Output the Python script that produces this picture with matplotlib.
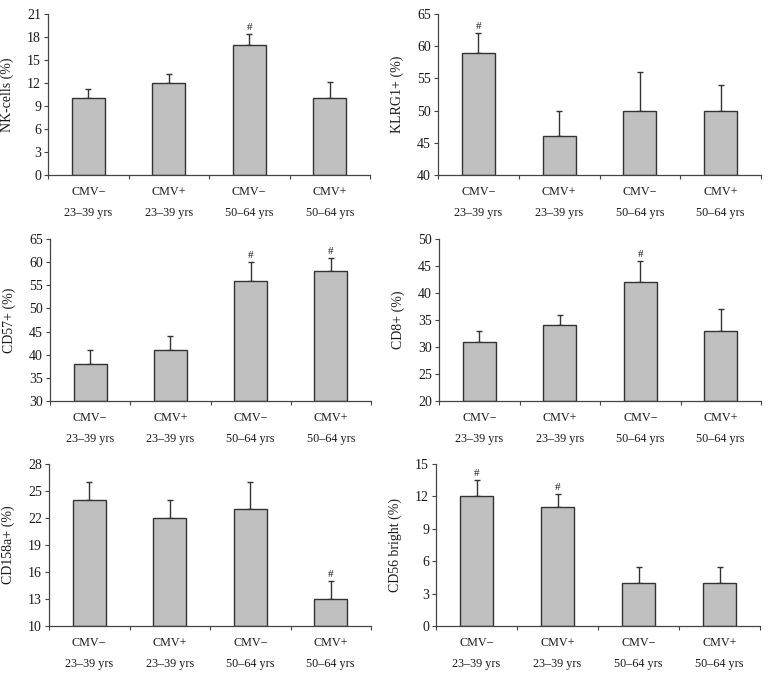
import matplotlib
matplotlib.use("Agg")
import matplotlib.pyplot as plt
import numpy as np

plt.rcParams['font.family'] = ['Liberation Serif', 'DejaVu Serif']

categories = ["CMV\u2212\n23\u201339 yrs", "CMV+\n23\u201339 yrs",
              "CMV\u2212\n50\u201364 yrs", "CMV+\n50\u201364 yrs"]

nk_vals = [10, 12, 17, 10]
nk_err = [1.2, 1.2, 1.4, 2.1]
nk_sig = [False, False, True, False]

klrg_vals = [59, 46, 50, 50]
klrg_err = [3, 4, 6, 4]
klrg_sig = [True, False, False, False]

cd57_vals = [38, 41, 56, 58]
cd57_err = [3, 3, 4, 3]
cd57_sig = [False, False, True, True]

cd8_vals = [31, 34, 42, 33]
cd8_err = [2, 2, 4, 4]
cd8_sig = [False, False, True, False]

cd158_vals = [24, 22, 23, 13]
cd158_err = [2, 2, 3, 2]
cd158_sig = [False, False, False, True]

cd56_vals = [12, 11, 4, 4]
cd56_err = [1.5, 1.2, 1.5, 1.5]
cd56_sig = [True, True, False, False]

panels = [
    ("NK-cells (%)", nk_vals, nk_err, nk_sig, (0, 21), np.arange(0, 22, 3)),
    ("KLRG1+ (%)", klrg_vals, klrg_err, klrg_sig, (40, 65), np.arange(40, 66, 5)),
    ("CD57+ (%)", cd57_vals, cd57_err, cd57_sig, (30, 65), np.arange(30, 66, 5)),
    ("CD8+ (%)", cd8_vals, cd8_err, cd8_sig, (20, 50), np.arange(20, 51, 5)),
    ("CD158a+ (%)", cd158_vals, cd158_err, cd158_sig, (10, 28), np.arange(10, 29, 3)),
    ("CD56 bright (%)", cd56_vals, cd56_err, cd56_sig, (0, 15), np.arange(0, 16, 3)),
]

W, H = 774, 675
# pixel boxes: left, right, top, bottom
boxes = [
    (48, 370, 14, 175), (438, 761, 14, 175),
    (50, 371, 239, 401), (439, 761, 239, 401),
    (49, 371, 464, 626), (436, 760, 464, 626),
]

fig = plt.figure(figsize=(W / 100, H / 100), dpi=100)
axis_col = '#444444'
txt_col = '#1a1a1a'
for (ylabel, vals, errs, sig, ylim, yticks), (l, r, t, b) in zip(panels, boxes):
    ax = fig.add_axes([l / W, 1 - b / H, (r - l) / W, (b - t) / H])
    x = np.arange(len(categories))
    ax.bar(x, np.array(vals) - ylim[0], bottom=ylim[0], width=0.41,
           color='#c0c0c0', edgecolor='#333333', linewidth=1.0, zorder=2)
    ax.errorbar(x, vals, yerr=[np.zeros(len(vals)), errs], fmt='none',
                ecolor='#333333', elinewidth=1.0, capsize=2.2, capthick=1.0, zorder=1)
    span = ylim[1] - ylim[0]
    for xi, v, e, s in zip(x, vals, errs, sig):
        if s:
            ax.text(xi, v + e + span * 0.012, '#', ha='center', va='bottom',
                    fontsize=8, color=txt_col)
    ax.set_xlim(-0.5, 3.5)
    ax.set_ylim(*ylim)
    ax.set_yticks(yticks)
    ax.set_yticklabels([str(v) for v in yticks], fontsize=10, color=txt_col)
    ax.set_xticks(x)
    ax.set_xticklabels(categories, fontsize=8.7, color=txt_col, linespacing=2.0)
    ax.set_xticks(np.arange(-0.5, 4, 1), minor=True)
    ax.tick_params(axis='x', which='major', length=0, pad=8)
    ax.tick_params(axis='x', which='minor', length=3, color=axis_col, width=0.8, direction='out')
    ax.tick_params(axis='y', length=3, color=axis_col, width=0.8, direction='out', pad=2)
    for sp in ['top', 'right']:
        ax.spines[sp].set_visible(False)
    for sp in ['left', 'bottom']:
        ax.spines[sp].set_color(axis_col)
        ax.spines[sp].set_linewidth(0.9)
    ax.set_ylabel(ylabel, fontsize=10, color=txt_col)
    ax.yaxis.set_label_coords(-34 / (r - l), 0.5)

fig.savefig('out.png', dpi=100)
